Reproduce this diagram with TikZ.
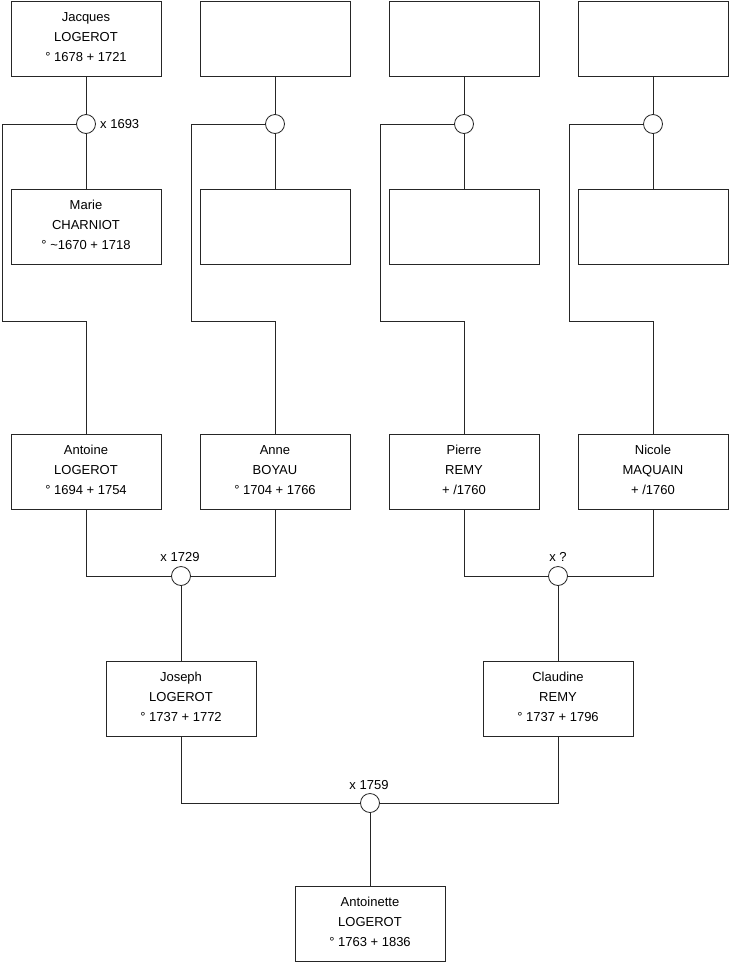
\documentclass[tikz,border=0pt]{standalone}
\usepackage{fontspec}
\setmainfont{Liberation Sans}
\begin{document}
\begin{tikzpicture}[x=1pt,y=-1pt,
  person/.style={draw=black!85, line width=0.8pt, minimum width=150pt, minimum height=75pt, align=center, inner sep=0pt, text depth=3.6pt, font=\fontsize{13}{20}\selectfont, execute at begin node={\rule{0pt}{9.6pt}}},
  marr/.style={circle, draw=black!85, line width=0.8pt, minimum size=19pt, inner sep=0pt, fill=white},
  lbl/.style={font=\fontsize{13}{15}\selectfont, inner sep=0pt},
  link/.style={draw=black!85, line width=0.8pt}]
\useasboundingbox (0,0) rectangle (740,975);
% top row
\node[person] (jacques) at (86,38.5) {Jacques\\LOGEROT\\° 1678 + 1721};
\node[person] (t2) at (275,38.5) {};
\node[person] (t3) at (464,38.5) {};
\node[person] (t4) at (653,38.5) {};
% second row
\node[person] (marie) at (86,227) {Marie\\CHARNIOT\\° \textasciitilde 1670 + 1718};
\node[person] (s2) at (275,227) {};
\node[person] (s3) at (464,227) {};
\node[person] (s4) at (653,227) {};
% marriage circles top
\node[marr] (m1) at (86,124) {};
\node[marr] (m2) at (275,124) {};
\node[marr] (m3) at (464,124) {};
\node[marr] (m4) at (653,124) {};
\node[lbl, anchor=west] (l1) at (100,124) {x 1693};
% third row
\node[person] (antoine) at (86,472) {Antoine\\LOGEROT\\° 1694 + 1754};
\node[person] (anne) at (275,472) {Anne\\BOYAU\\° 1704 + 1766};
\node[person] (pierre) at (464,472) {Pierre\\REMY\\+ /1760};
\node[person] (nicole) at (653,472) {Nicole\\MAQUAIN\\+ /1760};
% fourth row
\node[marr] (m5) at (181,576) {};
\node[marr] (m6) at (558,576) {};
\node[lbl] (l5) at (180,557) {x 1729};
\node[lbl] (l6) at (558,557) {x ?};
\node[person] (joseph) at (181,699) {Joseph\\LOGEROT\\° 1737 + 1772};
\node[person] (claudine) at (558,699) {Claudine\\REMY\\° 1737 + 1796};
\node[marr] (m7) at (370,803) {};
\node[lbl] (l7) at (369,785) {x 1759};
\node[person] (antoinette) at (370,924) {Antoinette\\LOGEROT\\° 1763 + 1836};
% corner coordinates
\coordinate (c1) at (2,321);
\coordinate (c2) at (191,321);
\coordinate (c3) at (380,321);
\coordinate (c4) at (569,321);
% connectors top
\draw[link] (jacques.south) -- (m1.north);
\draw[link] (m1.south) -- (marie.north);
\draw[link] (m1.west) -| (c1) -| (antoine.north);
\draw[link] (t2.south) -- (m2.north);
\draw[link] (m2.south) -- (s2.north);
\draw[link] (m2.west) -| (c2) -| (anne.north);
\draw[link] (t3.south) -- (m3.north);
\draw[link] (m3.south) -- (s3.north);
\draw[link] (m3.west) -| (c3) -| (pierre.north);
\draw[link] (t4.south) -- (m4.north);
\draw[link] (m4.south) -- (s4.north);
\draw[link] (m4.west) -| (c4) -| (nicole.north);
% connectors bottom
\draw[link] (antoine.south) |- (m5.west);
\draw[link] (anne.south) |- (m5.east);
\draw[link] (m5.south) -- (joseph.north);
\draw[link] (pierre.south) |- (m6.west);
\draw[link] (nicole.south) |- (m6.east);
\draw[link] (m6.south) -- (claudine.north);
\draw[link] (joseph.south) |- (m7.west);
\draw[link] (claudine.south) |- (m7.east);
\draw[link] (m7.south) -- (antoinette.north);
\end{tikzpicture}
\end{document}
